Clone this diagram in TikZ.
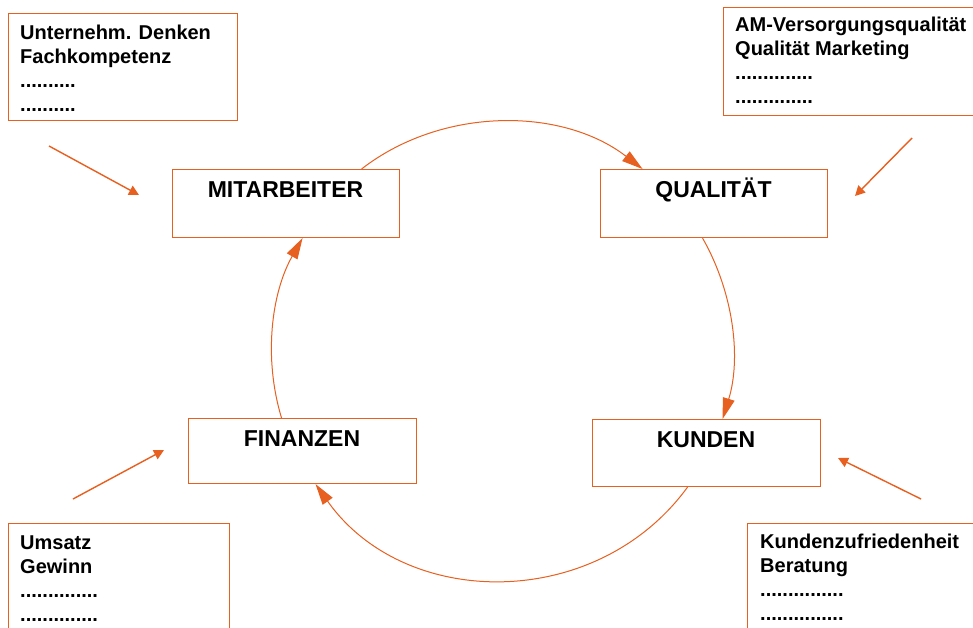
\documentclass[tikz,border=0pt]{standalone}
\usepackage{fontspec}
\setmainfont{Liberation Sans}
\usetikzlibrary{arrows.meta}
\definecolor{org}{RGB}{232,96,32}
\begin{document}
\begin{tikzpicture}[x=1pt,y=1pt,
  box/.style={draw=org, line width=1.1pt, inner sep=0, anchor=north west},
  info/.style={anchor=north west, inner sep=0, align=left, font=\fontsize{20}{24}\selectfont\bfseries},
  title/.style={anchor=base, inner sep=0, font=\fontsize{23}{28}\selectfont\bfseries},
  cyc/.style={draw=org, line width=1pt, -{Triangle[length=21pt,width=12pt]}},
  ptr/.style={draw=org, line width=1.4pt, -{Triangle[length=10pt,width=10pt]}}]
\clip (0,0) rectangle (973,-628);
\fill[white] (0,0) rectangle (973,-628);

% info boxes
\node[box, minimum width=229, minimum height=107] (tlbox) at (8,-13) {};
\node[info] (tltext) at (20,-22.2) {\strut Unternehm. Denken\\Fachkompetenz\\..........\\..........};
\node[box, minimum width=270, minimum height=108] (trbox) at (723,-7) {};
\node[info] (trtext) at (735,-14.2) {\strut AM-Versorgungsqualität\\Qualität Marketing\\..............\\..............};
\node[box, minimum width=221, minimum height=130] (blbox) at (8,-523) {};
\node[info] (bltext) at (20,-532.2) {\strut Umsatz\\Gewinn\\..............\\..............};
\node[box, minimum width=250, minimum height=130] (brbox) at (747,-523) {};
\node[info] (brtext) at (760,-531.2) {\strut Kundenzufriedenheit\\Beratung\\...............\\...............};

% main boxes
\node[box, minimum width=227, minimum height=68] (mit) at (172,-169) {};
\node[box, minimum width=227, minimum height=68] (qual) at (600,-169) {};
\node[box, minimum width=228, minimum height=65] (fin) at (188,-418) {};
\node[box, minimum width=228, minimum height=67] (kun) at (592,-419) {};
\node[title] (mitt) at (285.5,-198) {MITARBEITER};
\node[title] (qualt) at (713.5,-198) {QUALITÄT};
\node[title] (fint) at (302,-446) {FINANZEN};
\node[title] (kunt) at (706,-447) {KUNDEN};

% cycle
\draw[cyc] ([xshift=75.5]mit.north) to[out=37.8, in=142.4, looseness=0.93] ([xshift=-71.5]qual.north);
\draw[cyc] ([xshift=-11.5]qual.south) to[out=-60.3, in=72.8, looseness=0.89] ([xshift=16]kun.north);
\draw[cyc] ([xshift=-19]kun.south) to[out=-126.1, in=-54.8, looseness=1.06] ([xshift=13]fin.south);
\draw[cyc] ([xshift=-21]fin.north) to[out=106.9, in=-119.7, looseness=0.89] ([xshift=16.5]mit.south);

% small pointers
\coordinate (p1s) at (49,-146);  \coordinate (p1e) at (139,-195);
\coordinate (p2s) at (912,-138); \coordinate (p2e) at (855,-196);
\coordinate (p3s) at (73,-499);  \coordinate (p3e) at (164,-450);
\coordinate (p4s) at (921,-499); \coordinate (p4e) at (838,-458);
\draw[ptr] (p1s) -- (p1e);
\draw[ptr] (p2s) -- (p2e);
\draw[ptr] (p3s) -- (p3e);
\draw[ptr] (p4s) -- (p4e);
\end{tikzpicture}
\end{document}
